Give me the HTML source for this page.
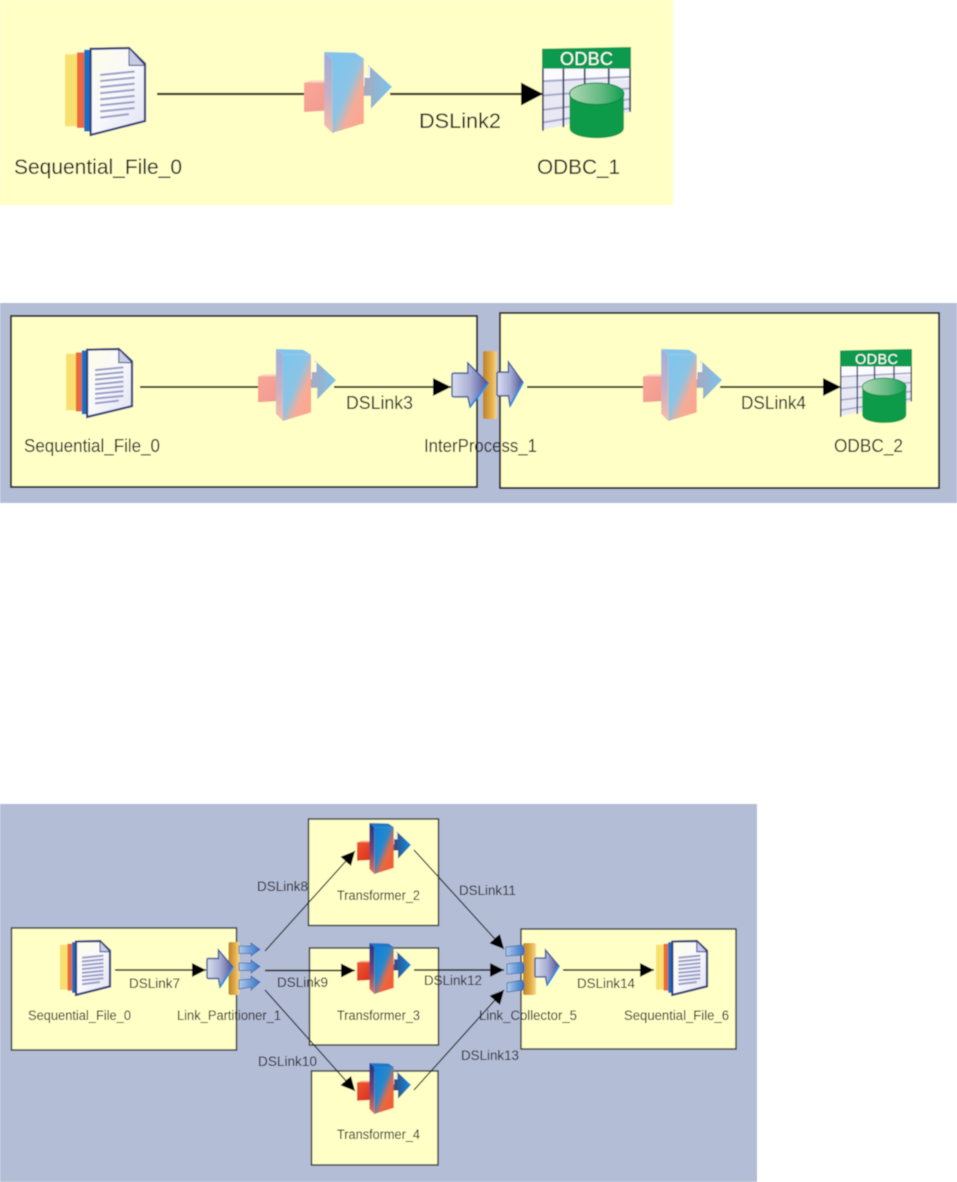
<!DOCTYPE html>
<html><head><meta charset="utf-8"><title>Diagram</title>
<style>
html,body{margin:0;padding:0;background:#fff}
svg{display:block}
text{font-family:"Liberation Sans",sans-serif;fill:#14141c}
</style></head><body>
<svg width="957" height="1182" viewBox="0 0 957 1182" xmlns="http://www.w3.org/2000/svg">
<defs>
<filter id="b" x="-2%" y="-2%" width="104%" height="104%"><feGaussianBlur stdDeviation="0.4"/></filter>
<marker id="h" viewBox="0 0 10 10" refX="10" refY="5" markerUnits="userSpaceOnUse" markerWidth="14" markerHeight="14" orient="auto"><path d="M0 0L10 5L0 10z" fill="#000"/></marker>
<marker id="h2" viewBox="0 0 10 10" refX="10" refY="5" markerUnits="userSpaceOnUse" markerWidth="18" markerHeight="18" orient="auto"><path d="M0 0L10 5L0 10z" fill="#000"/></marker>
<marker id="h1" viewBox="0 0 10 10" refX="10" refY="5" markerUnits="userSpaceOnUse" markerWidth="22" markerHeight="23" orient="auto" preserveAspectRatio="none"><path d="M0 0L10 5L0 10z" fill="#000"/></marker>
<linearGradient id="page" x1="0" y1="0" x2="1" y2="1"><stop offset="0" stop-color="#fdfde8"/><stop offset=".5" stop-color="#f8f8fc"/><stop offset="1" stop-color="#dfe2f2"/></linearGradient>
<linearGradient id="core" x1="0" y1="0" x2="1" y2="1"><stop offset="0" stop-color="#0a80d8"/><stop offset=".42" stop-color="#2a88cc"/><stop offset=".62" stop-color="#e56a48"/><stop offset="1" stop-color="#ff5222"/></linearGradient>
<linearGradient id="side" x1="0" y1="0" x2="0" y2="1"><stop offset="0" stop-color="#20308a"/><stop offset=".55" stop-color="#704878"/><stop offset="1" stop-color="#f07050"/></linearGradient>
<linearGradient id="red" x1="0" y1="0" x2="1" y2="1"><stop offset="0" stop-color="#f05a32"/><stop offset="1" stop-color="#d82c1c"/></linearGradient>
<linearGradient id="tarr" x1="0" y1="0" x2="1" y2="0"><stop offset="0" stop-color="#38447a"/><stop offset="1" stop-color="#0c90e0"/></linearGradient>
<linearGradient id="pcore" x1="0" y1="0" x2="1" y2="1"><stop offset="0" stop-color="#7cc6ee"/><stop offset=".45" stop-color="#8cc4e4"/><stop offset=".65" stop-color="#f5ac98"/><stop offset="1" stop-color="#ffa488"/></linearGradient>
<linearGradient id="pside" x1="0" y1="0" x2="0" y2="1"><stop offset="0" stop-color="#9cb0dc"/><stop offset=".55" stop-color="#c8b0c4"/><stop offset="1" stop-color="#f8bca8"/></linearGradient>
<linearGradient id="pred" x1="0" y1="0" x2="1" y2="1"><stop offset="0" stop-color="#f9a898"/><stop offset="1" stop-color="#f29890"/></linearGradient>
<linearGradient id="parr" x1="0" y1="0" x2="1" y2="0"><stop offset="0" stop-color="#a8a8bc"/><stop offset="1" stop-color="#78c4ee"/></linearGradient>
<linearGradient id="arr" x1="0" y1="0" x2="1" y2="0"><stop offset="0" stop-color="#d8deee"/><stop offset=".5" stop-color="#a8aed4"/><stop offset="1" stop-color="#4c5094"/></linearGradient>
<linearGradient id="small" x1="0" y1="0" x2="1" y2="0"><stop offset="0" stop-color="#b0cbea"/><stop offset="1" stop-color="#2f70c4"/></linearGradient>
<linearGradient id="bar" x1="0" y1="0" x2="1" y2="0"><stop offset="0" stop-color="#bc8226"/><stop offset=".6" stop-color="#e4ae48"/><stop offset="1" stop-color="#f6d890"/></linearGradient>
<linearGradient id="cylt" x1="0" y1="0" x2="1" y2="0"><stop offset="0" stop-color="#b0d8b4"/><stop offset=".6" stop-color="#60b880"/><stop offset="1" stop-color="#0fa050"/></linearGradient>

<g id="file">
<path d="M0 7H16V90H0z" fill="#f8e070"/>
<path d="M15 5H25V92H15z" fill="#ea6a3e"/>
<path d="M24 2H33V96H24z" fill="#1670c4"/>
<path d="M32 1L80 0L100 18V84L32 100z" fill="url(#page)" stroke="#35407e" stroke-width="2.2" vector-effect="non-scaling-stroke"/>
<path d="M80 0V20H100z" fill="#c8cce6" stroke="#35407e" stroke-width="1" vector-effect="non-scaling-stroke"/>
<g stroke="#9a9ec8" stroke-width="2" fill="none">
<path d="M44 31L87 27M44 38L87 34M44 45L87 41M44 52L87 48M44 59L87 55M44 66L87 62M44 73L87 69M44 80L80 76" vector-effect="non-scaling-stroke"/>
</g>
</g>

<g id="tr">
<path d="M67 31H73V16L100 43L76 70V54H67z" fill="url(#tarr)"/>
<path d="M68 42V31H74V18" fill="none" stroke="#dfe6f5" stroke-width="1.2" vector-effect="non-scaling-stroke"/>
<path d="M0 38L30 35V72L0 74z" fill="url(#red)"/>
<path d="M0 38L8 35H30L24 38z" fill="#f8a080"/>
<path d="M23 0L58 1L68 8H32z" fill="#1a78c8"/>
<path d="M32 8H68V88L32 100z" fill="url(#core)"/>
<path d="M23 0L32 8V100L23 90z" fill="url(#side)"/>
</g>

<g id="trp">
<path d="M67 31H73V16L100 43L76 70V54H67z" fill="url(#parr)"/>
<path d="M68 42V31H74V18" fill="none" stroke="#fff" stroke-width="1.4" vector-effect="non-scaling-stroke"/>
<path d="M0 38L30 35V72L0 74z" fill="url(#pred)"/>
<path d="M0 38L8 35H30L24 38z" fill="#fbd0c0"/>
<path d="M23 0L58 1L68 8H32z" fill="#84c4ec"/>
<path d="M32 8H68V88L32 100z" fill="url(#pcore)"/>
<path d="M23 0L32 8V100L23 90z" fill="url(#pside)"/>
</g>

<g id="odbc">
<path d="M0 24H100V72L0 92z" fill="#e8e9f4"/>
<path d="M0 24H100V36L0 38z" fill="#fafaff"/>
<g stroke="#a8aac8" stroke-width="2.2" fill="none" vector-effect="non-scaling-stroke">
<path d="M0 38L99 33M0 54L99 46M0 70L99 58M0 84L99 68"/>
</g>
<g stroke="#3e4068" stroke-width="2" fill="none">
<path d="M1 24V93M24 24V89M48 24V70M75 24V70M99 24V72"/>
</g>
<path d="M0 2L100 0V24H0z" fill="#0a9a50"/>
<path d="M31 52V90C31 105 92 105 92 90V52z" fill="#0a9a4a"/>
<ellipse cx="61.500" cy="52" rx="30.500" ry="12" fill="url(#cylt)" stroke="#0a8a42" stroke-width="1.2"/>
</g>

<g id="big">
<path d="M0 27Q0 23 5 23H44V0L100 46L50 100L44 77H5Q0 77 0 73z" fill="url(#arr)" stroke="#3e5a9c" stroke-width="1.400" vector-effect="non-scaling-stroke"/>
<path d="M100 46L50 100" stroke="#1a90e8" stroke-width="2" vector-effect="non-scaling-stroke"/>
</g>
</defs>

<g filter="url(#b)">
<rect x="0" y="0" width="673" height="205" fill="#ffffc6"/>
<rect x="0" y="303" width="957" height="200" fill="#b3bdd6"/>
<rect x="0" y="804" width="757" height="378" fill="#b3bdd6"/>

<!-- Section 1 -->
<g transform="translate(65 48) scale(.8 .87)"><use href="#file"/></g>
<path d="M157 94H306" stroke="#2c2c1c" stroke-width="2.2" fill="none"/>
<g transform="translate(304 52) scale(.88 .81)"><use href="#trp"/></g>
<path d="M390 94H543" stroke="#2c2c1c" stroke-width="2.2" fill="none" marker-end="url(#h1)"/>
<g transform="translate(542 47) scale(.89 .9)"><use href="#odbc"/></g>
<text x="560" y="65" font-size="18" textLength="53" lengthAdjust="spacing" style="fill:#fff">ODBC</text>
<text x="14" y="174" font-size="21.500" textLength="168" lengthAdjust="spacingAndGlyphs">Sequential_File_0</text>
<text x="419" y="128" font-size="21.500" textLength="82" lengthAdjust="spacingAndGlyphs">DSLink2</text>
<text x="537" y="174" font-size="21.500" textLength="83" lengthAdjust="spacingAndGlyphs">ODBC_1</text>

<!-- Section 2 -->
<rect x="11" y="316" width="466" height="171" fill="#ffffc6" stroke="#2b2b33" stroke-width="2"/>
<rect x="500" y="313" width="439" height="175" fill="#ffffc6" stroke="#2b2b33" stroke-width="2"/>
<g transform="translate(66 349) scale(.66 .68)"><use href="#file"/></g>
<path d="M140 387H260" stroke="#2c2c1c" stroke-width="1.900" fill="none"/>
<g transform="translate(258 349) scale(.78 .72)"><use href="#trp"/></g>
<path d="M334 387H451" stroke="#2c2c1c" stroke-width="1.900" fill="none" marker-end="url(#h2)"/>
<rect x="483" y="351" width="14" height="68" rx="2" fill="url(#bar)"/>
<g transform="translate(452 363) scale(.36 .44)"><use href="#big"/></g>
<g transform="translate(497 362) scale(.26 .44)"><use href="#big"/></g>
<path d="M527 387H646" stroke="#2c2c1c" stroke-width="1.900" fill="none"/>
<g transform="translate(643 349) scale(.79 .72)"><use href="#trp"/></g>
<path d="M720 387H841" stroke="#2c2c1c" stroke-width="1.900" fill="none" marker-end="url(#h2)"/>
<g transform="translate(840 349) scale(.72 .73)"><use href="#odbc"/></g>
<text x="855" y="364" font-size="14.500" textLength="43" lengthAdjust="spacing" style="fill:#fff">ODBC</text>
<text x="24" y="452" font-size="18" textLength="136" lengthAdjust="spacingAndGlyphs">Sequential_File_0</text>
<text x="346" y="409" font-size="18" textLength="67" lengthAdjust="spacingAndGlyphs">DSLink3</text>
<text x="424" y="452" font-size="18" textLength="113" lengthAdjust="spacingAndGlyphs">InterProcess_1</text>
<text x="741" y="409" font-size="18" textLength="65" lengthAdjust="spacingAndGlyphs">DSLink4</text>
<text x="834" y="452" font-size="18" textLength="69" lengthAdjust="spacingAndGlyphs">ODBC_2</text>

<!-- Section 3 boxes -->
<rect x="11.500" y="928" width="225" height="122" fill="#ffffc6" stroke="#2b2b33" stroke-width="1.400"/>
<rect x="521" y="929" width="215" height="120" fill="#ffffc6" stroke="#2b2b33" stroke-width="1.400"/>
<rect x="308.500" y="819" width="130" height="106.500" fill="#ffffc6" stroke="#2b2b33" stroke-width="1.400"/>
<rect x="309.500" y="948" width="129" height="97" fill="#ffffc6" stroke="#2b2b33" stroke-width="1.400"/>
<rect x="311.500" y="1071" width="126.500" height="94" fill="#ffffc6" stroke="#2b2b33" stroke-width="1.400"/>

<!-- Section 3 icons -->
<g transform="translate(60 941) scale(.5 .54)"><use href="#file"/></g>
<g transform="translate(656 941) scale(.51 .54)"><use href="#file"/></g>
<g transform="translate(357 823) scale(.54 .51)"><use href="#tr"/></g>
<g transform="translate(357 943) scale(.54 .51)"><use href="#tr"/></g>
<g transform="translate(357 1063) scale(.54 .51)"><use href="#tr"/></g>

<!-- Partitioner -->
<rect x="228.500" y="942" width="11" height="53" rx="2" fill="url(#bar)"/>
<g transform="translate(207 950) scale(.26 .37)"><use href="#big"/></g>
<g fill="url(#small)" stroke="#3e6cb0" stroke-width=".8">
<path d="M239 946H251V943L260 949.500L251 956V953.500H239z"/>
<path d="M239 963H251V960L260 966.500L251 973V970.500H239z"/>
<path d="M239 980L251 979V976L260 982L251 990V987L239 989z"/>
</g>

<!-- Collector -->
<rect x="523" y="943" width="13" height="52" rx="2" fill="url(#bar)"/>
<g transform="translate(535 950) scale(.24 .35)"><use href="#big"/></g>
<g fill="url(#small)" stroke="#3e6cb0" stroke-width=".8">
<path d="M506 947L522 945Q526 950 523 955L506 956z"/>
<path d="M507 964L522 962Q526 967 523 973L507 974z"/>
<path d="M507 983L522 980Q526 985 523 990L507 992z"/>
</g>

<!-- Section 3 connectors -->
<g stroke="#111" stroke-width="1.200" fill="none">
<path d="M115 970H206" stroke-width="1.500" marker-end="url(#h)"/>
<path d="M265 951L355 851" marker-end="url(#h)"/>
<path d="M265 970.500H355" stroke-width="1.500" marker-end="url(#h)"/>
<path d="M265 990L355 1091" marker-end="url(#h)"/>
<path d="M414 850L504 949" marker-end="url(#h)"/>
<path d="M414 970H504" stroke-width="1.500" marker-end="url(#h)"/>
<path d="M414 1090L504 990" marker-end="url(#h)"/>
<path d="M563 970H654" stroke-width="1.500" marker-end="url(#h)"/>
</g>

<!-- Section 3 labels -->
<g font-size="13.500">
<text x="28" y="1020" textLength="103" lengthAdjust="spacingAndGlyphs">Sequential_File_0</text>
<text x="129" y="988" textLength="51" lengthAdjust="spacingAndGlyphs">DSLink7</text>
<text x="177" y="1020" textLength="104" lengthAdjust="spacingAndGlyphs">Link_Partitioner_1</text>
<text x="257" y="891" textLength="51" lengthAdjust="spacingAndGlyphs">DSLink8</text>
<text x="277" y="987" textLength="51" lengthAdjust="spacingAndGlyphs">DSLink9</text>
<text x="258" y="1066" textLength="59" lengthAdjust="spacingAndGlyphs">DSLink10</text>
<text x="337" y="900" textLength="83" lengthAdjust="spacingAndGlyphs">Transformer_2</text>
<text x="337" y="1020" textLength="83" lengthAdjust="spacingAndGlyphs">Transformer_3</text>
<text x="337" y="1139" textLength="83" lengthAdjust="spacingAndGlyphs">Transformer_4</text>
<text x="459" y="895" textLength="57" lengthAdjust="spacingAndGlyphs">DSLink11</text>
<text x="424" y="985" textLength="58" lengthAdjust="spacingAndGlyphs">DSLink12</text>
<text x="461" y="1060" textLength="58" lengthAdjust="spacingAndGlyphs">DSLink13</text>
<text x="479" y="1020" textLength="98" lengthAdjust="spacingAndGlyphs">Link_Collector_5</text>
<text x="577" y="988" textLength="58" lengthAdjust="spacingAndGlyphs">DSLink14</text>
<text x="624" y="1020" textLength="105" lengthAdjust="spacingAndGlyphs">Sequential_File_6</text>
</g>
</g>
</svg>
</body></html>
